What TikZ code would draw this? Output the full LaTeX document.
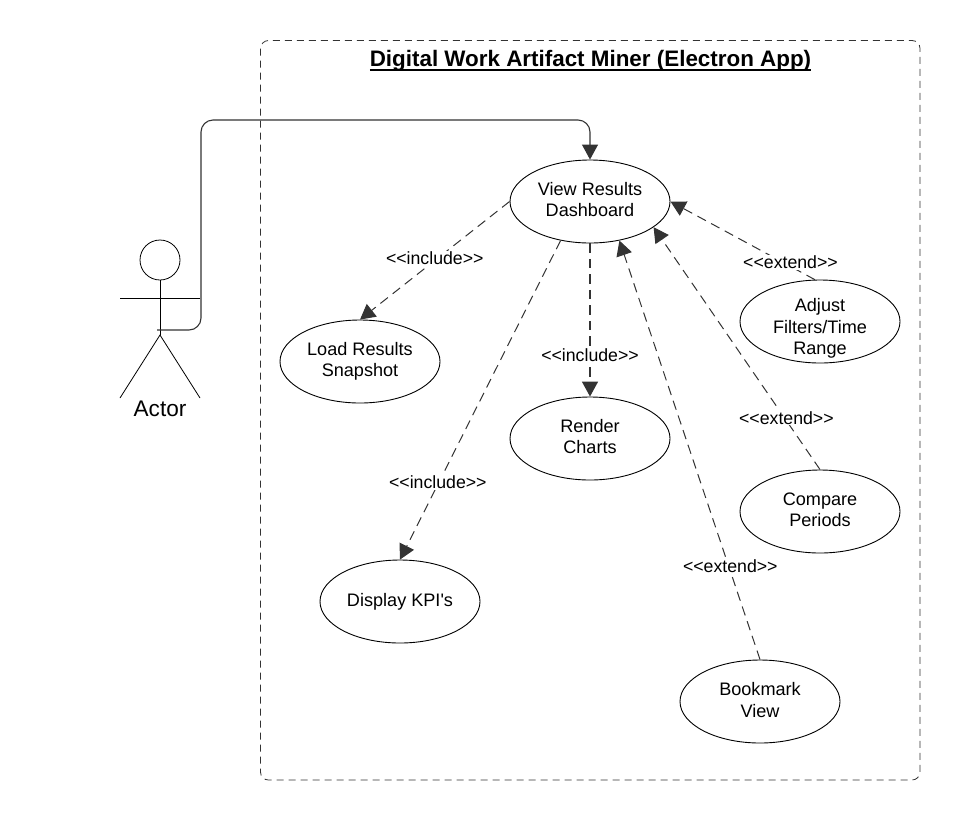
\documentclass[tikz,border=0pt]{standalone}
\usepackage{fontspec}
\setmainfont[Ligatures=TeXOff]{Liberation Sans}
\usetikzlibrary{shapes.geometric,arrows.meta}
\definecolor{ln}{HTML}{333333}
\newcommand{\gtgt}{{>}{>}}
\newcommand{\ltlt}{{<}{<}}
\newcommand{\thickul}[1]{\setbox0=\hbox{#1}\rlap{\rule[-4.2pt]{\wd0}{2.2pt}}\box0}
\tikzset{
  usecase/.style={draw=black,line width=0.9pt,ellipse,minimum width=160pt,minimum height=83pt,inner sep=0pt,fill=white},
  casetext/.style={align=center,font=\fontsize{18.1pt}{21.5pt}\selectfont,text=black,inner sep=0pt},
  dep/.style={draw=ln,line width=1pt,dash pattern=on 9.5pt off 6pt,-{Triangle[length=15pt,width=16pt,color=ln]}},
  deplabel/.style={font=\fontsize{17.7pt}{20pt}\selectfont,text=black,fill=white,inner xsep=0.5pt,inner ysep=1pt},
  stick/.style={draw=black,line width=0.8pt},
}
\begin{document}
\begin{tikzpicture}[x=1pt,y=-1pt]
\useasboundingbox (0,0) rectangle (960,820);
\draw[draw=ln,line width=0.8pt,dash pattern=on 7pt off 5pt,rounded corners=8pt] (260.5,40.5) rectangle (920,780);
\node[font=\fontsize{22.4pt}{26pt}\selectfont\bfseries] (title) at (590.5,61) {\thickul{Digital Work Artifact Miner (Electron App)}};
% actor
\node[draw=black,line width=0.8pt,circle,minimum size=40pt,inner sep=0pt] (head) at (160,260) {};
\coordinate (hip) at (160,335);
\coordinate (armL) at (120,298.5);
\coordinate (armR) at (200,298.5);
\coordinate (legL) at (120,398);
\coordinate (legR) at (200,398);
\draw[stick] (head.south) -- (hip);
\draw[stick] (armL) -- (armR);
\draw[stick] (legL) -- (hip) -- (legR);
\node[font=\fontsize{22.6pt}{26pt}\selectfont] (actor) at (160,408.5) {Actor};
% use cases
\node[usecase,label={[casetext,yshift=2pt]center:{View Results\\Dashboard}}] (view) at (590,201.5) {};
\node[usecase,label={[casetext]center:{Load Results\\Snapshot}}] (load) at (360,361.5) {};
\node[usecase,label={[casetext,yshift=2pt]center:{Render\\Charts}}] (render) at (590,438.5) {};
\node[usecase,label={[casetext]center:{Display KPI's}}] (kpi) at (400,601.5) {};
\node[usecase,label={[casetext,yshift=-7pt]center:{Adjust\\Filters/Time\\Range}}] (adjust) at (820,321.5) {};
\node[usecase,label={[casetext,yshift=1.5pt]center:{Compare\\Periods}}] (compare) at (820,511.5) {};
\node[usecase,label={[casetext,yshift=1.5pt]center:{Bookmark\\View}}] (bookmark) at (760,701.5) {};
% actor connector
\coordinate (actorhand) at (157,330);
\draw[draw=ln,line width=1.1pt,rounded corners=12pt,-{Triangle[length=15pt,width=16pt,color=ln]}] (actorhand) -- (201,330) -- (201,120) -- (590,120) -- (view.north);
% dependencies
\draw[dep] (view.west) -- node[deplabel,pos=0.48,xshift=-3pt] {\ltlt include\gtgt} (load.north);
\draw[dep] (view.-127) -- node[deplabel,pos=0.755,xshift=-1.5pt,yshift=-0.7pt] {\ltlt include\gtgt} (kpi.north);
\draw[dep,line width=1.5pt] (view.south) -- node[deplabel,pos=0.73] {\ltlt include\gtgt} (render.north);
\draw[dep] (bookmark.north) -- node[deplabel,pos=0.222,xshift=1.5pt] {\ltlt extend\gtgt} (view.-53);
\draw[dep] (compare.north) -- node[deplabel,pos=0.214,xshift=2pt] {\ltlt extend\gtgt} (view.-22);
\draw[dep] (adjust.97) -- node[deplabel,pos=0.2,xshift=4.5pt,yshift=1.5pt] {\ltlt extend\gtgt} (view.east);
\end{tikzpicture}
\end{document}
